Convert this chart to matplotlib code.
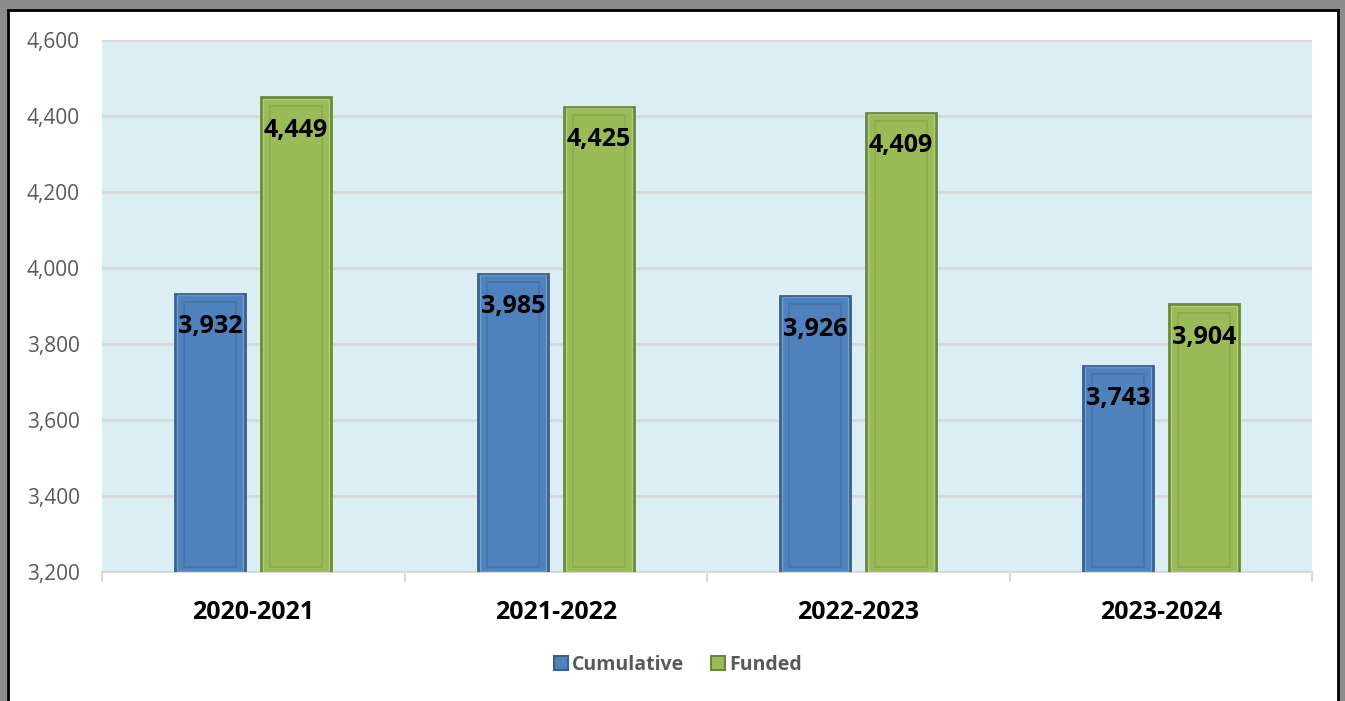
import matplotlib
matplotlib.use("Agg")
import matplotlib.pyplot as plt
from matplotlib.patches import Rectangle
from matplotlib.ticker import FuncFormatter, FixedLocator
import numpy as np

categories = ["2020-2021", "2021-2022", "2022-2023", "2023-2024"]
cumulative = [3932, 3985, 3926, 3743]
funded = [4449, 4425, 4409, 3904]
series_names = ["Cumulative", "Funded"]

plt.rcParams['font.family'] = ['Open Sans', 'DejaVu Sans']

W, H = 1345, 701
fig = plt.figure(figsize=(W/100, H/100), dpi=100)
fig.patch.set_facecolor("white")

# outer frame
fig.patches.append(Rectangle((0, 0), 1, 1, transform=fig.transFigure, facecolor="#8c8c8c", edgecolor="none", zorder=-3))
fig.patches.append(Rectangle((8/W, -0.05), (1338-8)/W, (H-10)/H + 0.05, transform=fig.transFigure,
                             facecolor="white", edgecolor="black", linewidth=2, zorder=-2))

ax = fig.add_axes([102/W, 1-572/H, (1312-102)/W, (572-40)/H])
ax.set_facecolor("#DAEEF3")
ax.set_ylim(3200, 4600)
ax.set_xlim(-0.5, len(categories)-0.5)

x = np.arange(len(categories))
off = 0.142
bw = 0.231

def draw_bars(xs, vals, face, dark, light, inner):
    for xi, v in zip(xs, vals):
        ax.bar(xi, v-3200, bottom=3200, width=bw, color=face, edgecolor=dark, linewidth=2.0, zorder=3)
        ax.bar(xi, v-3200-6, bottom=3200+3, width=bw*0.94, color="none", edgecolor=light, linewidth=1.0, zorder=4, alpha=0.6)
        ax.bar(xi, v-3200-36, bottom=3200+14, width=bw*0.74, color="none", edgecolor=inner, linewidth=1.2, zorder=4)

draw_bars(x-off, cumulative, "#4F81BD", "#3A5F8C", "#8FB2E0", "#4373AE")
draw_bars(x+off, funded, "#9BBB59", "#6B8838", "#C3D995", "#8CAC4C")

for xs, vals in ((x-off, cumulative), (x+off, funded)):
    for xi, v in zip(xs, vals):
        ax.annotate(f"{v:,}", (xi, v), xytext=(0, -33), textcoords="offset pixels",
                    ha="center", va="center", fontsize=18, fontweight="bold", color="black", zorder=6)

ax.yaxis.set_major_locator(FixedLocator(np.arange(3200, 4601, 200)))
ax.yaxis.set_major_formatter(FuncFormatter(lambda v, p: f"{int(v):,}"))
ax.grid(axis="y", color="#D9D9D9", linewidth=2, zorder=0)
ax.set_axisbelow(True)
ax.tick_params(axis="y", length=0, labelsize=15, labelcolor="#595959", pad=16)

ax.set_xticks(x)
ax.set_xticklabels(categories, fontsize=18, fontweight="bold", color="black")
ax.tick_params(axis="x", length=0, pad=20)
ax.set_xticks(np.arange(-0.5, len(categories)), minor=True)
ax.tick_params(axis="x", which="minor", length=7, color="#D9D9D9", width=1.5)

for s in ["top", "right", "left"]:
    ax.spines[s].set_visible(False)
ax.spines["bottom"].set_color("#D9D9D9")
ax.spines["bottom"].set_linewidth(1.5)

h1 = Rectangle((0, 0), 1, 1, facecolor="#4F81BD", edgecolor="#3A5F8C", linewidth=1.5)
h2 = Rectangle((0, 0), 1, 1, facecolor="#9BBB59", edgecolor="#6B8838", linewidth=1.5)
leg = fig.legend([h1, h2], series_names, loc="center", bbox_to_anchor=(678/W, 1-665/H), ncol=2,
                 frameon=False, handlelength=0.7, handleheight=0.7, handletextpad=0.2, columnspacing=1.4,
                 prop={"size": 14, "weight": "bold"})
for t in leg.get_texts():
    t.set_color("#595959")

fig.savefig("out.png", dpi=100)
